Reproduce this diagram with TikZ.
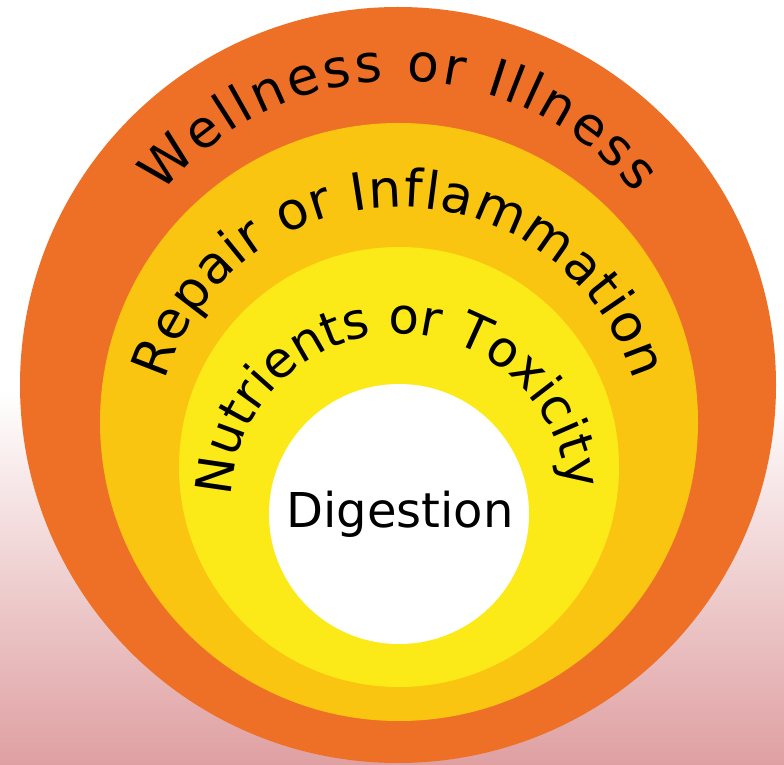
\documentclass[tikz,border=0pt]{standalone}
\usepackage{fontspec}
\setmainfont{DejaVu Sans}
\usetikzlibrary{decorations.text}
\definecolor{wellcol}{RGB}{238,112,38}
\definecolor{repaircol}{RGB}{250,197,17}
\definecolor{nutrientcol}{RGB}{252,234,24}
\definecolor{bgpink}{RGB}{223,160,162}

\begin{document}
\begin{tikzpicture}[x=1pt,y=1pt]
	\def\ringfont{\fontsize{52}{62}\selectfont}
	\def\innerfont{\fontsize{50}{60}\selectfont}
	\tikzstyle{ring} = [circle, inner sep=0pt, draw=none]
	\tikzstyle{arctext} = [decorate, decoration={text along path, text align={fit to path}}]
	\useasboundingbox (0,0) rectangle (784,764);
	\fill[white] (0,374) rectangle (784,764);
	\shade[top color=white, bottom color=bgpink] (0,0) rectangle (784,374);
	\node (wellness)[ring, fill=wellcol, minimum size=756pt] at (398,379) {};
	\node (repair)[ring, fill=repaircol, minimum size=598pt] at (399,342) {};
	\node (nutrients)[ring, fill=nutrientcol, minimum size=440pt] at (399,297) {};
	\node (digestion)[ring, fill=white, minimum size=260pt] at (399,250) {};
	\coordinate (wellarc) at (399,379);
	\coordinate (repairarc) at (399,312);
	\coordinate (nutrientarc) at (399,262);
	\path[arctext, decoration={text={|\ringfont|Wellness or Illness}}]
		(wellarc) ++(141:304) arc[start angle=141, end angle=39, radius=304];
	\path[arctext, decoration={text={|\ringfont|Repair or Inflammation}}]
		(repairarc) ++(163:245) arc[start angle=163, end angle=17, radius=245];
	\path[arctext, decoration={text={|\innerfont|Nutrients or Toxicity}}]
		(nutrientarc) ++(178:168) arc[start angle=178, end angle=5, radius=168];
	\node (label)[anchor=base, font=\fontsize{48}{58}\selectfont] at (400,237) {Digestion};
\end{tikzpicture}
\end{document}
